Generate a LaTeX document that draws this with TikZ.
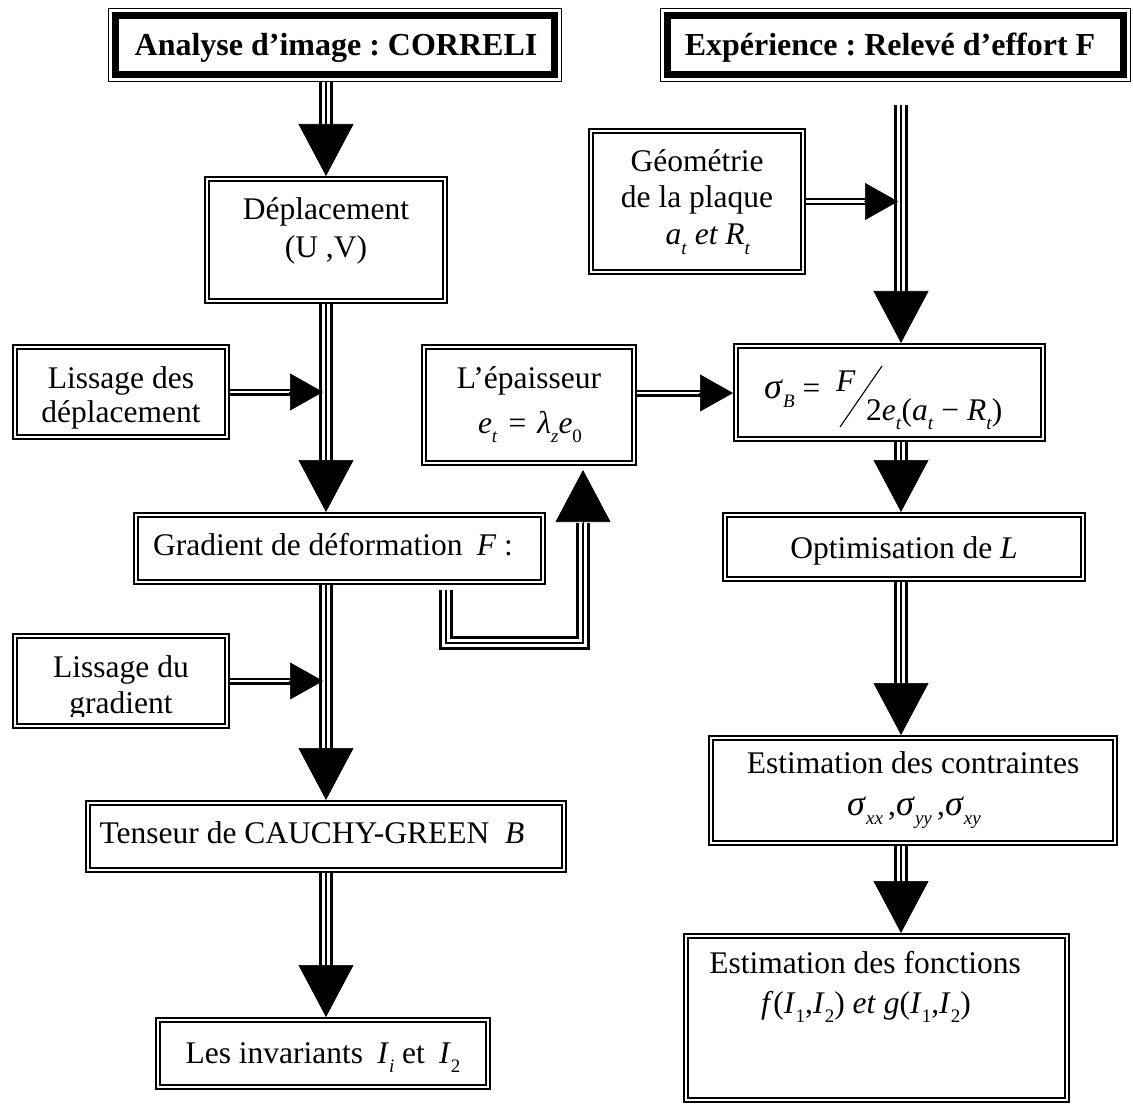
\documentclass[tikz,border=0pt]{standalone}
\usepackage{fontspec}
\setmainfont{Liberation Serif}
\usetikzlibrary{arrows.meta,calc}
\frenchspacing
\newcommand\ti[1]{\textit{#1}}
\newcommand\sbx[1]{\raisebox{-0.3em}{\fontsize{19}{19}\selectfont #1}}
\newcommand\bigsig{{\fontsize{36}{36}\selectfont\textit{σ}}}
\tikzset{
  box/.style={draw=black, line width=1.6pt, double=white, double distance=2.6pt, inner sep=0pt, outer sep=2.9pt, rectangle},
  hdr/.style={draw=black, line width=1.4pt, inner sep=0pt, outer sep=0.7pt, rectangle},
  trip/.style={draw=black, line width=14pt, postaction={draw=white, line width=8.5pt}, postaction={draw=black, line width=2.6pt}},
  dbl/.style={draw=black, line width=7pt, postaction={draw=white, line width=2.8pt}},
  vhd/.style={draw=black, line width=0.6pt, -{Triangle[length=52pt, width=55pt]}},
  hhd/.style={draw=black, line width=0.6pt, -{Triangle[length=33pt, width=37pt]}},
  txt/.style={inner sep=0pt, font=\fontsize{31.5}{37}\selectfont},
  htxt/.style={inner sep=0pt, font=\bfseries\fontsize{32}{38}\selectfont}
}
\newcommand\mkbox[5]{\node[box, minimum width={(#4-#2-5.8)*1pt}, minimum height={(#5-#3-5.8)*1pt}] (#1) at ({(#2+#4)/2},{(#3+#5)/2}) {};}
\newcommand\mkhdr[5]{\node[hdr, minimum width={(#4-#2-1.4)*1pt}, minimum height={(#5-#3-1.4)*1pt}] (#1) at ({(#2+#4)/2},{(#3+#5)/2}) {};
  \draw[line width=6.5pt] ($(#1.north west)+(7.5,7.5)$) rectangle ($(#1.south east)+(-7.5,-7.5)$);}
\newcommand\vconn[2]{\path[trip] (#1) -- ($(#2)+(0,-51)$); \draw[vhd] ($(#2)+(0,-53)$) -- (#2);}
\newcommand\hconn[2]{\path[dbl] (#1) -- ($(#2)+(-31,0)$); \draw[hhd] ($(#2)+(-34,0)$) -- (#2);}
\begin{document}
\begin{tikzpicture}[x=1pt,y=-1pt]
\useasboundingbox (0,0) rectangle (1133,1110);
% headers
\mkhdr{h1}{108}{8}{562}{82}
\mkhdr{h2}{660}{8}{1131}{82}
\node[htxt, anchor=base] (h1t) at (336,56) {Analyse d’image : CORRELI};
\node[htxt, anchor=base] (h2t) at (890,56) {Expérience : Relevé d’effort F};
% boxes
\mkbox{dep}{204}{176}{448}{304}
\mkbox{lis1}{12}{344}{230}{440}
\mkbox{grad}{133}{512}{546}{585}
\mkbox{lis2}{12}{633}{230}{729}
\mkbox{tens}{85}{800}{567}{873}
\mkbox{inv}{155}{1017}{491}{1090}
\mkbox{geo}{588}{128}{806}{275}
\mkbox{ep}{421}{344}{637}{466}
\mkbox{sig}{733}{343}{1046}{442}
\mkbox{opt}{722}{512}{1086}{582}
\mkbox{cont}{708}{735}{1118}{846}
\mkbox{fonc}{683}{933}{1070}{1103}
% texts
\node[txt, anchor=base] (dep1) at (326,220) {Déplacement};
\node[txt, anchor=base] (dep2) at (326,258) {(U ,V)};
\begin{scope}
\clip ($(lis1.north west)+(6,6)$) rectangle ($(lis1.south east)+(-6,-12)$);
\node[txt, anchor=base] (lis1a) at (121,388) {Lissage des};
\node[txt, anchor=base] (lis1b) at (121,422) {déplacement};
\end{scope}
\node[txt, anchor=base] (gradt) at (333,555) {Gradient de déformation\hspace{0.45em}\ti{F} :};
\begin{scope}
\clip ($(lis2.north west)+(6,6)$) rectangle ($(lis2.south east)+(-6,-13)$);
\node[txt, anchor=base] (lis2a) at (121,677) {Lissage du};
\node[txt, anchor=base] (lis2b) at (121,713) {gradient};
\end{scope}
\node[txt, anchor=base] (tenst) at (312,843) {Tenseur de CAUCHY-GREEN\hspace{0.5em}\ti{B}};
\node[txt, anchor=base] (invt) at (323,1063) {Les invariants\hspace{0.45em}\ti{I}\sbx{\ti{i}} et\hspace{0.45em}\ti{I}\sbx{2}};
\node[txt, anchor=base] (geo1) at (697,172) {Géométrie};
\node[txt, anchor=base] (geo2) at (697,208) {de la plaque};
\node[txt, anchor=base] (geo3) at (708,245) {\ti{a}\sbx{\ti{t}} \ti{et R}\sbx{\ti{t}}};
\node[txt, anchor=base] (ep1) at (529,388) {L’épaisseur};
\node[txt, anchor=base] (ep2) at (530,433) {\ti{e}\sbx{\ti{t}}\hspace{0.35em}=\hspace{0.35em}\ti{λ}\sbx{\ti{z}}\ti{e}\sbx{0}};
\node[txt, anchor=base west] (sA) at (764,398) {\bigsig\sbx{\ti{B}} =};
\node[txt, anchor=base west] (sF) at (836,391) {\ti{F}};
\node[txt, anchor=base west] (sD) at (866,420) {2\ti{e}\sbx{\ti{t}}(\ti{a}\sbx{\ti{t}} − \ti{R}\sbx{\ti{t}})};
\draw[line width=1.1pt] (840,427) -- (882,366);
\node[txt, anchor=base] (optt) at (904,558) {Optimisation de \ti{L}};
\node[txt, anchor=base] (cont1) at (913,773) {Estimation des contraintes};
\node[txt, anchor=base] (cont2) at (914,815) {\bigsig\sbx{\ti{xx}}\,,\bigsig\sbx{\ti{yy}}\,,\bigsig\sbx{\ti{xy}}};
\node[txt, anchor=base] (fonc1) at (865,973) {Estimation des fonctions};
\node[txt, anchor=base] (fonc2) at (866,1013) {\ti{f}(\ti{I}\sbx{1},\ti{I}\sbx{2}) \ti{et} \ti{g}(\ti{I}\sbx{1},\ti{I}\sbx{2})};
% left column connectors
\coordinate (lx) at (dep.north |- h1.south);
\coordinate (g0) at (lx |- grad.north);
\coordinate (g1) at (lx |- grad.south);
\coordinate (t0) at (lx |- tens.north);
\coordinate (t1) at (lx |- tens.south);
\coordinate (i0) at (lx |- inv.north);
\vconn{lx}{dep.north}
\vconn{dep.south}{g0}
\vconn{g1}{t0}
\vconn{t1}{i0}
\coordinate (lt1) at ($(lx |- lis1.east)+(-3,0)$);
\coordinate (lt2) at ($(lx |- lis2.east)+(-3,0)$);
\hconn{lis1.east}{lt1}
\hconn{lis2.east}{lt2}
% right column connectors
\coordinate (rx) at (901,105);
\coordinate (s0) at (rx |- sig.north);
\coordinate (s1) at (rx |- sig.south);
\coordinate (o0) at (rx |- opt.north);
\coordinate (o1) at (rx |- opt.south);
\coordinate (c0) at (rx |- cont.north);
\coordinate (c1) at (rx |- cont.south);
\coordinate (f0) at (rx |- fonc.north);
\vconn{rx}{s0}
\vconn{s1}{o0}
\vconn{o1}{c0}
\vconn{c1}{f0}
\coordinate (gt) at ($(rx |- geo.east)+(-3,0)$);
\hconn{geo.east}{gt}
\coordinate (es) at ($(ep.north east)+(0,49)$);
\coordinate (et) at (sig.west |- es);
\hconn{es}{et}
% U connector from gradient to thickness
\coordinate (u0) at ($(grad.south east)+(-100,5)$);
\coordinate (u1) at ($(u0)+(0,53)$);
\coordinate (u3) at ($(ep.south east)+(-54,4)$);
\path[trip] (u0) -- (u1) -| ($(u3)+(0,53)$);
\draw[vhd] ($(u3)+(0,55)$) -- (u3);
\end{tikzpicture}
\end{document}
